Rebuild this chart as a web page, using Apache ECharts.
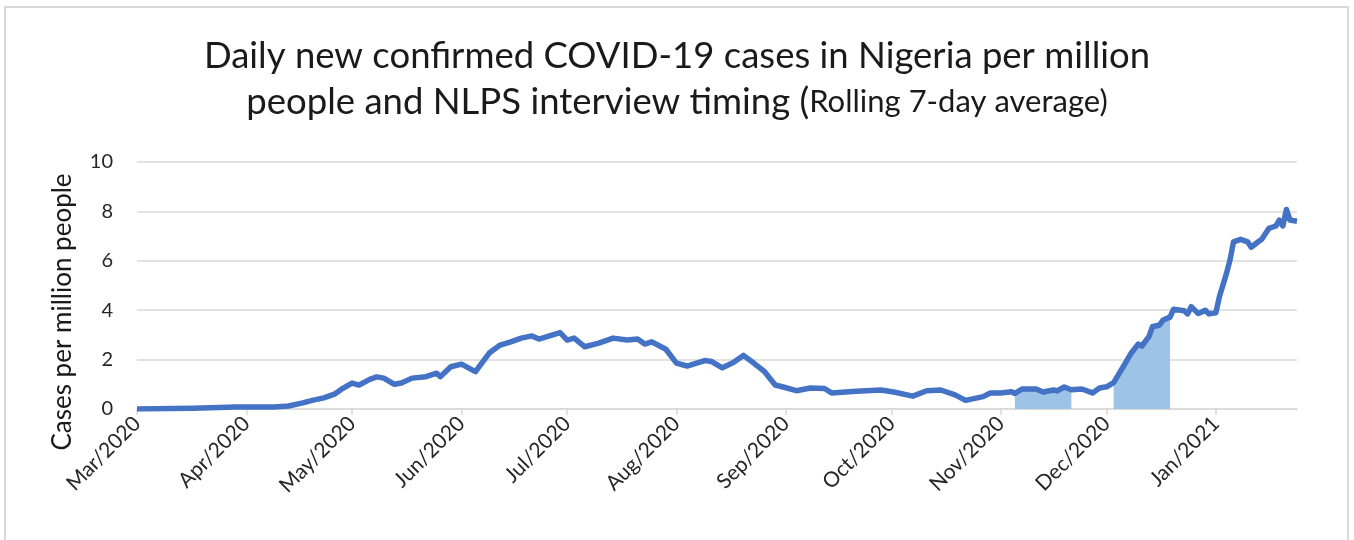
<!DOCTYPE html>
<html>
<head>
<meta charset="utf-8">
<title>COVID-19 cases in Nigeria</title>
<script src="https://cdn.jsdelivr.net/npm/echarts@6/dist/echarts.min.js"></script>
<style>
  html, body { margin: 0; padding: 0; background: #fff; }
  #main { width: 1354px; height: 540px; }
</style>
</head>
<body>
<div id="main"></div>
<script type="text/javascript">
// dates and rolling 7-day average
var dates = [
  '2020-03-01', '2020-03-17', '2020-03-29', '2020-04-09', '2020-04-13', '2020-04-17',
  '2020-04-20', '2020-04-23', '2020-04-26', '2020-04-28', '2020-05-01', '2020-05-03',
  '2020-05-06', '2020-05-08', '2020-05-10', '2020-05-13', '2020-05-15', '2020-05-18',
  '2020-05-22', '2020-05-25', '2020-05-26', '2020-05-29', '2020-06-01', '2020-06-05',
  '2020-06-09', '2020-06-12', '2020-06-15', '2020-06-18', '2020-06-21', '2020-06-23',
  '2020-06-26', '2020-06-29', '2020-07-01', '2020-07-03', '2020-07-06', '2020-07-10',
  '2020-07-14', '2020-07-18', '2020-07-21', '2020-07-23', '2020-07-25', '2020-07-29',
  '2020-08-01', '2020-08-04', '2020-08-09', '2020-08-11', '2020-08-14', '2020-08-17',
  '2020-08-20', '2020-08-23', '2020-08-26', '2020-08-29', '2020-08-31', '2020-09-04',
  '2020-09-08', '2020-09-12', '2020-09-14', '2020-09-21', '2020-09-28', '2020-10-02',
  '2020-10-07', '2020-10-11', '2020-10-15', '2020-10-19', '2020-10-22', '2020-10-27',
  '2020-10-29', '2020-11-01', '2020-11-04', '2020-11-05', '2020-11-07', '2020-11-11',
  '2020-11-13', '2020-11-16', '2020-11-17', '2020-11-19', '2020-11-21', '2020-11-24',
  '2020-11-27', '2020-11-29', '2020-12-01', '2020-12-03', '2020-12-06', '2020-12-08',
  '2020-12-10', '2020-12-11', '2020-12-13', '2020-12-14', '2020-12-16', '2020-12-17',
  '2020-12-19', '2020-12-20', '2020-12-23', '2020-12-24', '2020-12-25', '2020-12-27',
  '2020-12-29', '2020-12-30', '2021-01-01', '2021-01-02', '2021-01-04', '2021-01-05',
  '2021-01-06', '2021-01-08', '2021-01-10', '2021-01-11', '2021-01-13', '2021-01-14',
  '2021-01-16', '2021-01-18', '2021-01-19', '2021-01-20', '2021-01-21', '2021-01-22',
  '2021-01-24'
];
var cases = [
  0, 0.03, 0.08, 0.08, 0.12, 0.25,
  0.36, 0.45, 0.6, 0.8, 1.05, 0.97,
  1.2, 1.3, 1.25, 1.0, 1.05, 1.25,
  1.31, 1.45, 1.31, 1.71, 1.82, 1.51,
  2.28, 2.59, 2.72, 2.87, 2.96, 2.83,
  2.96, 3.09, 2.79, 2.87, 2.52, 2.67,
  2.87, 2.79, 2.83, 2.63, 2.72, 2.42,
  1.86, 1.74, 1.96, 1.92, 1.67, 1.87,
  2.17, 1.85, 1.51, 0.97, 0.9, 0.74,
  0.85, 0.83, 0.65, 0.72, 0.77, 0.68,
  0.52, 0.74, 0.77, 0.57, 0.35, 0.5,
  0.65, 0.65, 0.7, 0.63, 0.81, 0.81,
  0.69, 0.77, 0.73, 0.89, 0.78, 0.81,
  0.65, 0.85, 0.9, 1.07, 1.78, 2.27,
  2.63, 2.55, 2.93, 3.33, 3.4, 3.6,
  3.72, 4.04, 3.98, 3.85, 4.14, 3.87,
  4.0, 3.85, 3.9, 4.55, 5.49, 6.03,
  6.77, 6.87, 6.77, 6.55, 6.77, 6.87,
  7.31, 7.41, 7.65, 7.41, 8.08, 7.65,
  7.6
];
// NLPS interview windows (shaded)
var interviewWindows = [
  ['2020-11-05', '2020-11-21'],
  ['2020-12-03', '2020-12-19']
];
var tickDates = [
  '2020-03-01', '2020-04-01', '2020-05-01', '2020-06-01', '2020-07-01', '2020-08-01',
  '2020-09-01', '2020-10-01', '2020-11-01', '2020-12-01', '2021-01-01'
];
var tickLabels = [
  'Mar/2020', 'Apr/2020', 'May/2020', 'Jun/2020', 'Jul/2020', 'Aug/2020',
  'Sep/2020', 'Oct/2020', 'Nov/2020', 'Dec/2020', 'Jan/2021'
];

function toTime(s) {
  var p = s.split('-').map(Number);
  return Date.UTC(p[0], p[1] - 1, p[2]);
}

var tickValues = tickDates.map(toTime);
var lineData = dates.map(function (d, i) { return [toTime(d), cases[i]]; });

var shadeSeries = interviewWindows.map(function (w) {
  var a = toTime(w[0]), b = toTime(w[1]);
  return {
    type: 'line',
    data: lineData.filter(function (p) { return p[0] >= a && p[0] <= b; }),
    showSymbol: false,
    lineStyle: { width: 0 },
    areaStyle: { color: '#9DC3E6', opacity: 1 },
    z: 2,
    silent: true
  };
});

var myChart = echarts.init(document.getElementById('main'));
var font = 'Lato';

var option = {
  animation: false,
  backgroundColor: '#fff',
  textStyle: { fontFamily: font },
  title: {
    left: 'center',
    top: 33,
    padding: 0,
    text: '{a|Daily new confirmed COVID-19 cases in Nigeria per million}\n' +
          '{a|people and NLPS interview timing (}{b|Rolling 7-day average)}',
    textStyle: {
      fontWeight: 'normal',
      rich: {
        a: { fontFamily: font, fontSize: 36.5, fontWeight: 'normal', color: '#1a1a1a', lineHeight: 46 },
        b: { fontFamily: font, fontSize: 31, fontWeight: 'normal', color: '#1a1a1a', lineHeight: 46 }
      }
    }
  },
  graphic: [{
    type: 'rect',
    shape: { x: 5, y: 7, width: 1343, height: 545 },
    style: { fill: null, stroke: '#d9d9d9', lineWidth: 2 },
    silent: true
  }, {
    type: 'text',
    x: 63,
    y: 312,
    rotation: Math.PI / 2,
    style: {
      text: 'Cases per million people',
      fontFamily: font,
      fontSize: 26,
      fill: '#1a1a1a',
      align: 'center',
      verticalAlign: 'middle'
    },
    silent: true
  }],
  grid: { left: 137, right: 57, top: 162, bottom: 131 },
  xAxis: {
    type: 'value',
    min: toTime(dates[0]),
    max: toTime(dates[dates.length - 1]),
    axisLine: { lineStyle: { color: '#d9d9d9', width: 1.5 } },
    axisTick: {
      show: true,
      length: 6,
      customValues: tickValues,
      lineStyle: { color: '#d9d9d9', width: 1.5 }
    },
    axisLabel: {
      customValues: tickValues,
      rotate: 45,
      fontSize: 21,
      color: '#262626',
      margin: 11,
      formatter: function (v) {
        var i = tickValues.indexOf(v);
        return i >= 0 ? tickLabels[i] : '';
      }
    },
    splitLine: { show: false }
  },
  yAxis: {
    type: 'value',
    min: 0,
    max: 10,
    interval: 2,
    axisLine: { show: false },
    axisTick: { show: false },
    axisLabel: { fontSize: 20, color: '#262626', margin: 24 },
    splitLine: { lineStyle: { color: '#d9d9d9', width: 1.5 } }
  },
  series: [{
    type: 'line',
    data: lineData,
    showSymbol: false,
    lineStyle: { color: '#4472C4', width: 5.5, join: 'round' },
    z: 3
  }].concat(shadeSeries)
};

myChart.setOption(option);
</script>
</body>
</html>
